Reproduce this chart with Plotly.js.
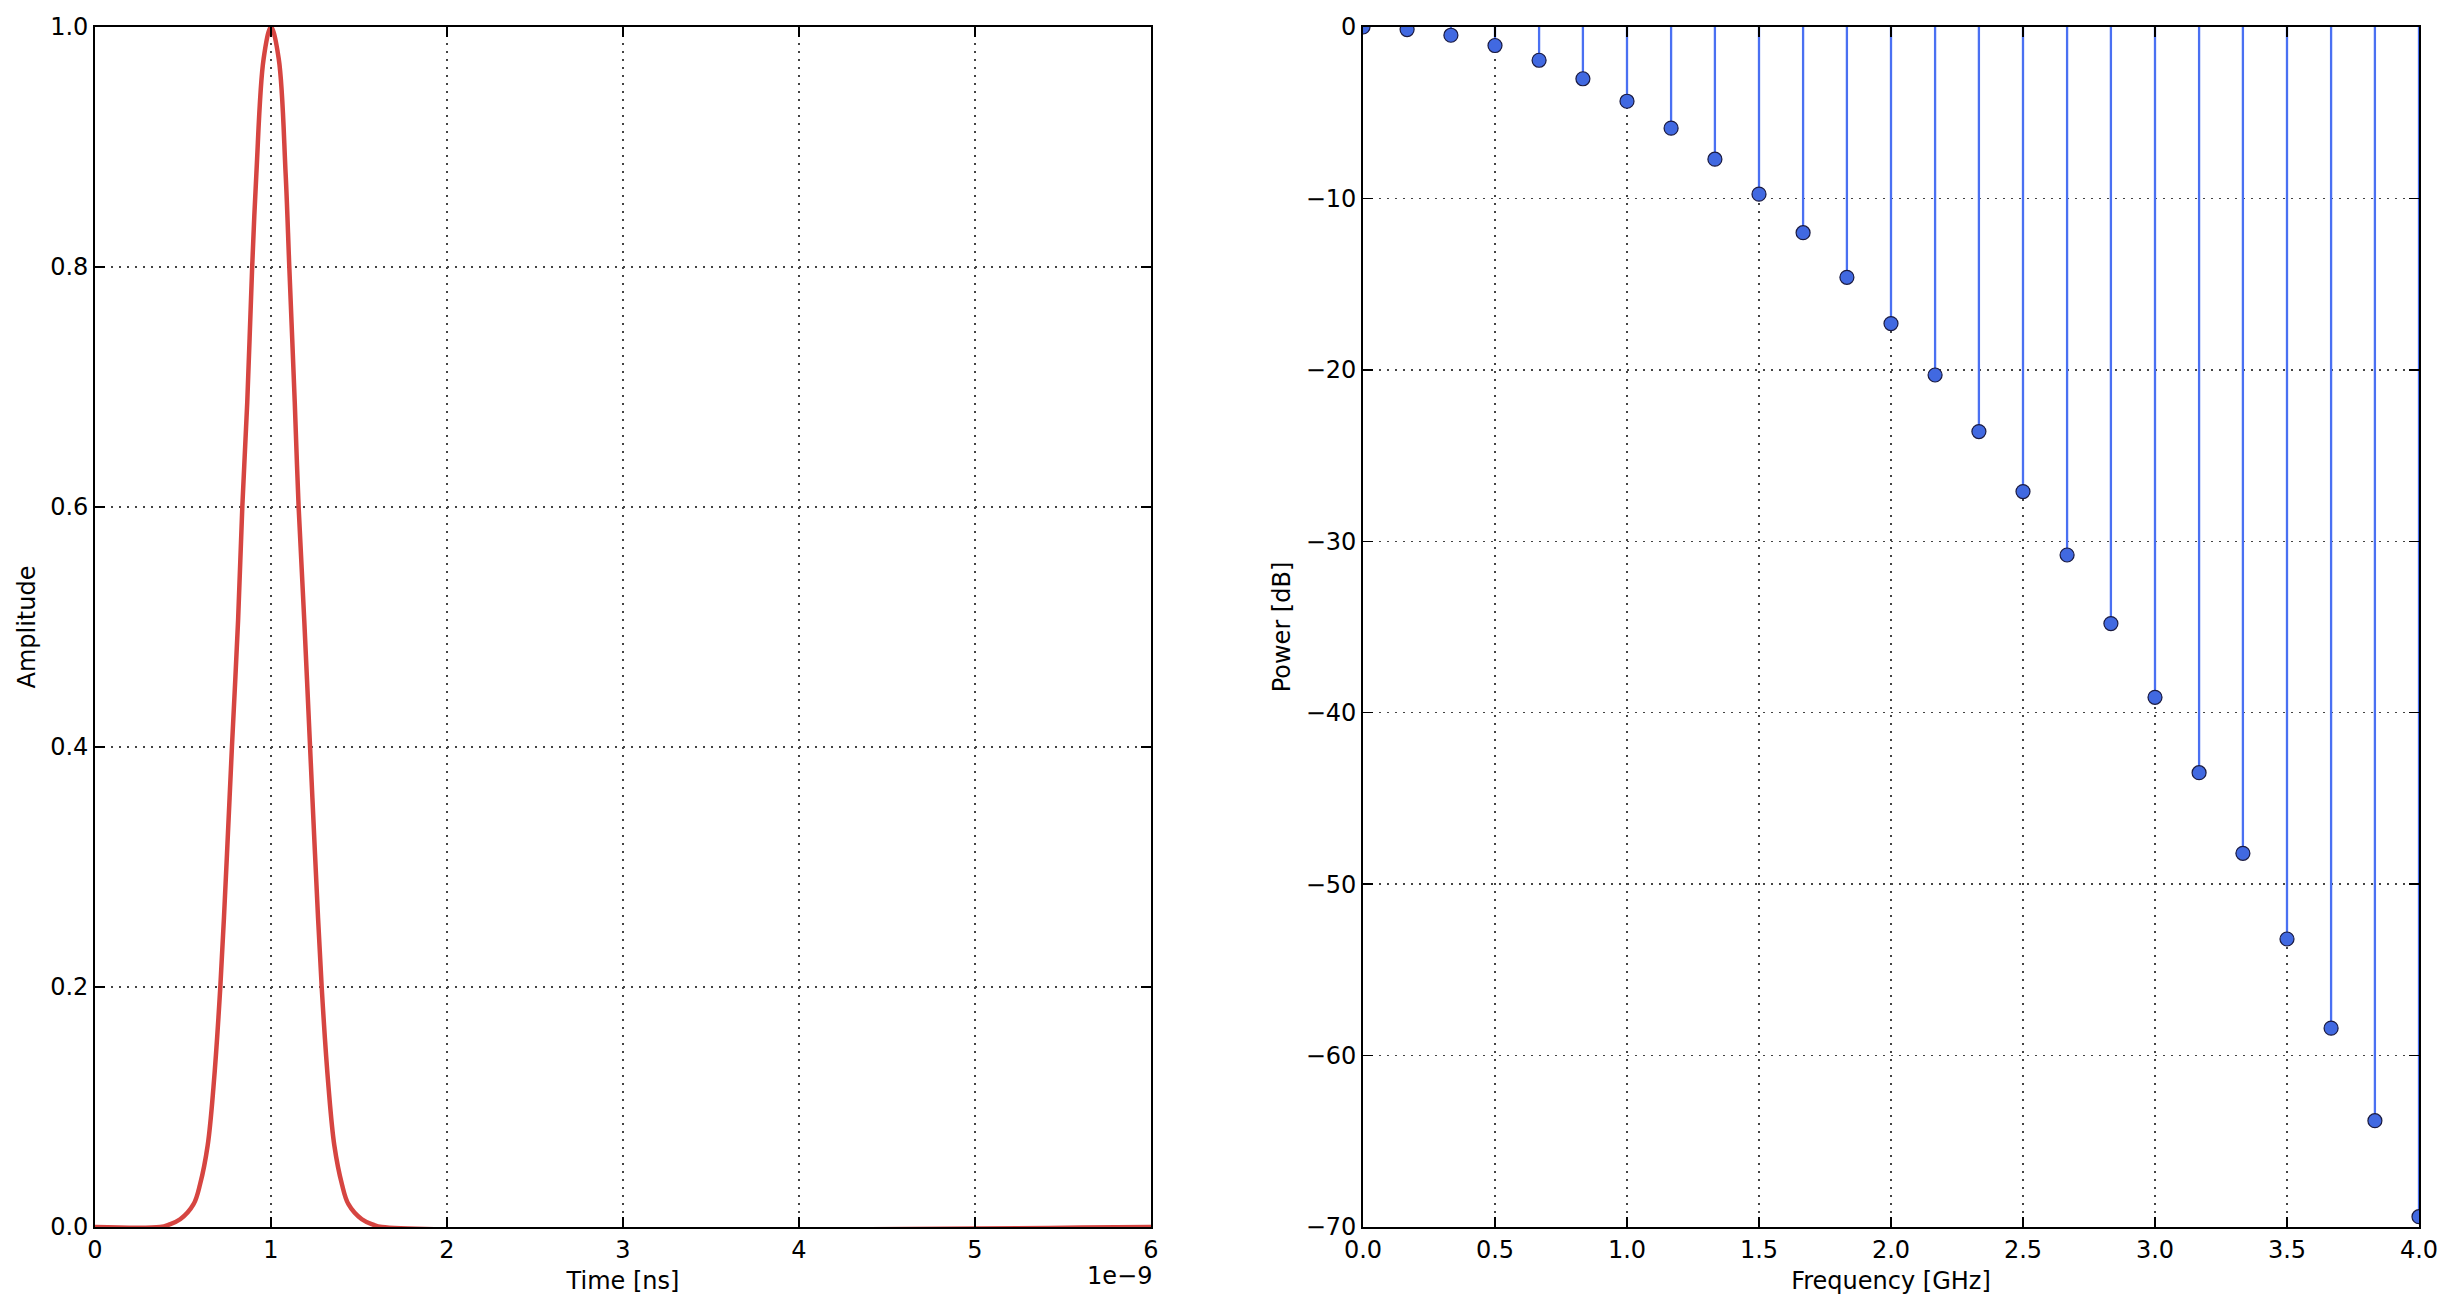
<!DOCTYPE html>
<html>
<head>
<meta charset="utf-8">
<script src="https://cdn.plot.ly/plotly-3.0.1.min.js"></script>
<style>
  html, body { margin: 0; padding: 0; background: #fff; }
  #chart { width: 2453px; height: 1309px; }
</style>
</head>
<body>
<div id="chart"></div>
<script>
// ---- Data ----
// Left panel: Gaussian pulse (time in ns, amplitude)
const timeNs = [0, 0.37, 0.42, 0.484, 0.56, 0.597, 0.64, 0.673, 0.712, 0.75, 0.778, 0.813, 0.837, 0.865, 0.893, 0.917, 0.958, 1.0,
                1.044, 1.083, 1.104, 1.135, 1.157, 1.189, 1.222, 1.25, 1.288, 1.327, 1.36, 1.403, 1.44, 1.516, 1.58, 1.63, 6.0];
const amplitude = [0, 0, 0.002, 0.0064, 0.019, 0.0356, 0.0678, 0.1164, 0.2, 0.311, 0.4, 0.5055, 0.6, 0.687, 0.8, 0.878, 0.9735, 1.0,
                   0.9735, 0.878, 0.8, 0.687, 0.6, 0.5055, 0.4, 0.311, 0.2, 0.1164, 0.0678, 0.0356, 0.019, 0.0064, 0.002, 0, 0];

// Right panel: power spectrum stems (frequency in GHz, power in dB)
const freqGHz = [0, 0.167, 0.333, 0.5, 0.667, 0.833, 1.0, 1.167, 1.333, 1.5, 1.667, 1.833, 2.0,
                 2.167, 2.333, 2.5, 2.667, 2.833, 3.0, 3.167, 3.333, 3.5, 3.667, 3.833, 4.0];
const powerDb = [0, -0.15, -0.48, -1.08, -1.94, -3.02, -4.33, -5.90, -7.71, -9.75, -12.0, -14.6, -17.3,
                 -20.3, -23.6, -27.1, -30.8, -34.8, -39.1, -43.5, -48.2, -53.2, -58.4, -63.8, -69.4];

// Tick values
const timeTicks = [0, 1, 2, 3, 4, 5, 6];
const ampTicks = [0.0, 0.2, 0.4, 0.6, 0.8, 1.0];
const freqTicks = [0.0, 0.5, 1.0, 1.5, 2.0, 2.5, 3.0, 3.5, 4.0];
const powerTicks = [0, -10, -20, -30, -40, -50, -60, -70];

// Labels
const timeLabel = 'Time [ns]';
const ampLabel = 'Amplitude';
const freqLabel = 'Frequency [GHz]';
const powerLabel = 'Power [dB]';
const timeOffsetText = '1e\u22129';

// ---- Build stems from the arrays ----
const stemX = [], stemY = [];
freqGHz.forEach((f, i) => { stemX.push(f, f, null); stemY.push(0, powerDb[i], null); });

const FONT = 'DejaVu Sans, Liberation Sans, sans-serif';
const tickFont = { family: FONT, size: 24, color: '#000' };
const titleFont = { family: FONT, size: 24, color: '#000' };

const gridStyle = { showgrid: true, gridcolor: '#444', gridwidth: 1.3, griddash: '2px,6px' };
const axisCommon = Object.assign({
  showline: true, linecolor: '#000', linewidth: 1.8, mirror: 'ticks',
  ticks: 'inside', ticklen: 10, tickwidth: 1.5, tickcolor: '#000',
  zeroline: false, tickfont: tickFont, automargin: false, fixedrange: true
}, gridStyle);

const traces = [
  {
    x: timeNs, y: amplitude, type: 'scatter', mode: 'lines',
    line: { color: '#d64541', width: 4.5, shape: 'spline', smoothing: 1 },
    xaxis: 'x', yaxis: 'y', hoverinfo: 'skip'
  },
  {
    x: stemX, y: stemY, type: 'scatter', mode: 'lines',
    line: { color: '#4a70f2', width: 2.3 },
    xaxis: 'x2', yaxis: 'y2', hoverinfo: 'skip', connectgaps: false
  },
  {
    x: freqGHz, y: powerDb, type: 'scatter', mode: 'markers',
    marker: { color: '#4169e1', size: 14, line: { color: '#1a1a40', width: 1.2 } },
    xaxis: 'x2', yaxis: 'y2', hoverinfo: 'skip'
  }
];

const layout = {
  width: 2453, height: 1309,
  paper_bgcolor: '#fff', plot_bgcolor: '#fff',
  showlegend: false,
  margin: { l: 95, r: 34, t: 27, b: 82, pad: 0 },
  font: { family: FONT, color: '#000' },
  xaxis: Object.assign({}, axisCommon, {
    domain: [0, 0.45439], range: [0, 6], tickvals: timeTicks, ticktext: timeTicks.map(String),
    title: { text: timeLabel, font: titleFont, standoff: 10 }, anchor: 'y'
  }),
  yaxis: Object.assign({}, axisCommon, {
    domain: [0, 1], range: [0, 1], tickvals: ampTicks, tickformat: '.1f',
    title: { text: ampLabel, font: titleFont, standoff: 8 }, anchor: 'x'
  }),
  xaxis2: Object.assign({}, axisCommon, {
    domain: [0.54561, 1], range: [0, 4], tickvals: freqTicks, tickformat: '.1f',
    title: { text: freqLabel, font: titleFont, standoff: 10 }, anchor: 'y2'
  }),
  yaxis2: Object.assign({}, axisCommon, {
    domain: [0, 1], range: [-70, 0], tickvals: powerTicks,
    title: { text: powerLabel, font: titleFont, standoff: 8 }, anchor: 'x2'
  }),
  annotations: [
    {
      text: timeOffsetText, xref: 'x domain', yref: 'y domain', x: 1, y: -0.041,
      xanchor: 'right', yanchor: 'middle', xshift: 3, showarrow: false,
      font: { family: FONT, size: 24, color: '#000' }
    }
  ]
};

Plotly.newPlot('chart', traces, layout, { staticPlot: true, displayModeBar: false });
</script>
</body>
</html>
